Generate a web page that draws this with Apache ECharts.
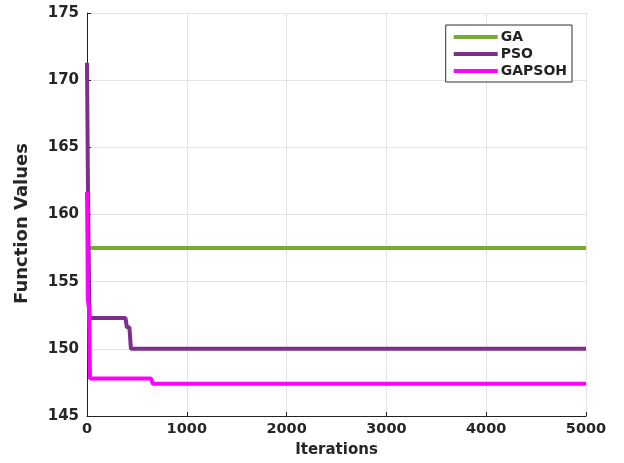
<!DOCTYPE html>
<html>
<head>
<meta charset="utf-8">
<script src="https://cdn.jsdelivr.net/npm/echarts@6/dist/echarts.min.js"></script>
<style>
  html, body { margin: 0; padding: 0; background: #fff; }
  #main { width: 624px; height: 463px; }
</style>
</head>
<body>
<div id="main"></div>
<script>
// data: [iteration, function value]
var seriesNames = ['GA', 'PSO', 'GAPSOH'];
var gaData = [[10, 157.5], [5000, 157.5]];
var psoData = [[0, 171.3], [6, 171.3], [8, 163.5], [15, 158], [25, 152.3], [385, 152.3],
               [400, 151.6], [425, 151.6], [440, 150], [5000, 150]];
var gapsohData = [[0, 161.7], [5, 158], [8, 153.7], [20, 153], [30, 147.8], [640, 147.8],
                  [660, 147.4], [5000, 147.4]];
var xTicks = { min: 0, max: 5000, step: 1000 };
var yTicks = { min: 145, max: 175, step: 5 };

var colors = ['#77AC30', '#7E2F8E', '#FF00FF'];
var font = 'DejaVu Sans';

var myChart = echarts.init(document.getElementById('main'));

function line(name, data, color) {
    return {
        name: name,
        type: 'line',
        data: data,
        symbol: 'none',
        color: color,
        lineStyle: { width: 4, color: color },
        animation: false
    };
}

var option = {
    backgroundColor: '#fff',
    animation: false,
    grid: { left: 87, right: 38, top: 13, bottom: 47 },
    legend: {
        data: seriesNames,
        orient: 'vertical',
        right: 52,
        top: 25,
        backgroundColor: '#fff',
        borderColor: '#333',
        borderWidth: 1,
        padding: [4, 5, 3, 8],
        itemGap: 1,
        itemWidth: 44,
        itemHeight: 4,
        icon: 'rect',
        textStyle: { fontFamily: font, fontWeight: 'bold', fontSize: 14, lineHeight: 16, color: '#222', padding: [0, 0, 0, -2] }
    },
    xAxis: {
        type: 'value',
        min: xTicks.min, max: xTicks.max, interval: xTicks.step,
        name: 'Iterations',
        nameLocation: 'middle',
        nameGap: 27,
        nameTextStyle: { fontFamily: font, fontWeight: 'bold', fontSize: 15, color: '#262626' },
        axisLine: { show: true, lineStyle: { color: '#222', width: 1 } },
        axisTick: { show: true, inside: true, length: 4, lineStyle: { color: '#222' } },
        axisLabel: { fontFamily: font, fontWeight: 'bold', fontSize: 14.5, color: '#262626', margin: 6,
                     formatter: function (v) { return String(v); } },
        splitLine: { show: true, lineStyle: { color: '#e3e3e3', width: 1 } }
    },
    yAxis: {
        type: 'value',
        min: yTicks.min, max: yTicks.max, interval: yTicks.step,
        name: 'Function Values',
        nameLocation: 'middle',
        nameGap: 56,
        nameTextStyle: { fontFamily: font, fontWeight: 'bold', fontSize: 18, color: '#262626',
                         padding: [0, 18, 0, 0] },
        axisLine: { show: true, lineStyle: { color: '#222', width: 1 } },
        axisTick: { show: true, inside: true, length: 4, lineStyle: { color: '#222' } },
        axisLabel: { fontFamily: font, fontWeight: 'bold', fontSize: 15, color: '#262626', margin: 8 },
        splitLine: { show: true, lineStyle: { color: '#e3e3e3', width: 1 } }
    },
    series: [
        line(seriesNames[0], gaData, colors[0]),
        line(seriesNames[1], psoData, colors[1]),
        line(seriesNames[2], gapsohData, colors[2])
    ]
};

myChart.setOption(option);
</script>
</body>
</html>
